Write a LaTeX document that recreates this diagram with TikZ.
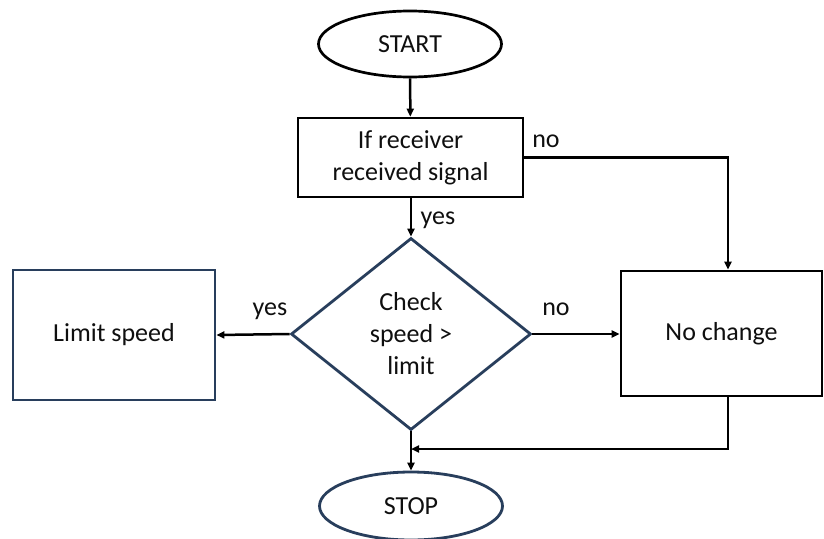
\documentclass[tikz,border=0pt]{standalone}
\usepackage{fontspec}
\setmainfont{Carlito}
\usetikzlibrary{shapes.geometric,arrows.meta}
\definecolor{navy}{RGB}{40,62,92}
\definecolor{txt}{RGB}{15,15,15}
\tikzset{
  base/.style={inner sep=0pt, text=txt, font=\fontsize{26}{32}\selectfont, align=center},
  blk/.style={base, draw=black, line width=2.7pt},
  nav/.style={base, draw=navy, line width=2.8pt},
  arr/.style={draw=black, line width=2.5pt, -{Triangle[length=8pt,width=7pt]}},
  lbl/.style={inner sep=0pt, text=txt, font=\fontsize{26}{32}\selectfont, anchor=base}
}
\begin{document}
\begin{tikzpicture}[x=1pt,y=-1pt]
\useasboundingbox (0,0) rectangle (824,538);
\fill[white] (0,0) rectangle (824,538);
\node[blk, ellipse, minimum width=183pt, minimum height=66pt] (start) at (410,44) {START};
\node[blk, rectangle, minimum width=225pt, minimum height=79pt] (ifbox) at (410.5,157.5) {If receiver\\received signal};
\node[nav, diamond, minimum width=240pt, minimum height=192pt] (dia) at (411,334) {Check\\speed >\\limit};
\node[nav, rectangle, minimum width=202pt, minimum height=130pt] (limit) at (114,335) {Limit speed};
\node[blk, rectangle, minimum width=201pt, minimum height=125pt] (nochange) at (721.5,333.5) {No change};
\node[nav, ellipse, minimum width=183pt, minimum height=68pt] (stop) at (411,506) {STOP};
\coordinate (nc) at (728,160);
\coordinate (join) at (411,449);
\draw[arr] (start) -- (ifbox);
\draw[arr] (ifbox.east) -| (nochange.north -| nc);
\draw[arr] (ifbox.south -| dia.north) -- (dia.north);
\draw[arr] (dia.west) -- (limit.east);
\draw[arr] (dia.east) -- (nochange.west |- dia.east);
\draw[arr] (nochange.south -| nc) |- (join);
\draw[arr] (dia.south) -- (stop.north);
\node[lbl] (l1) at (546,147) {no};
\node[lbl] (l2) at (438,224) {yes};
\node[lbl] (l3) at (270,315) {yes};
\node[lbl] (l4) at (556,315) {no};
\end{tikzpicture}
\end{document}
